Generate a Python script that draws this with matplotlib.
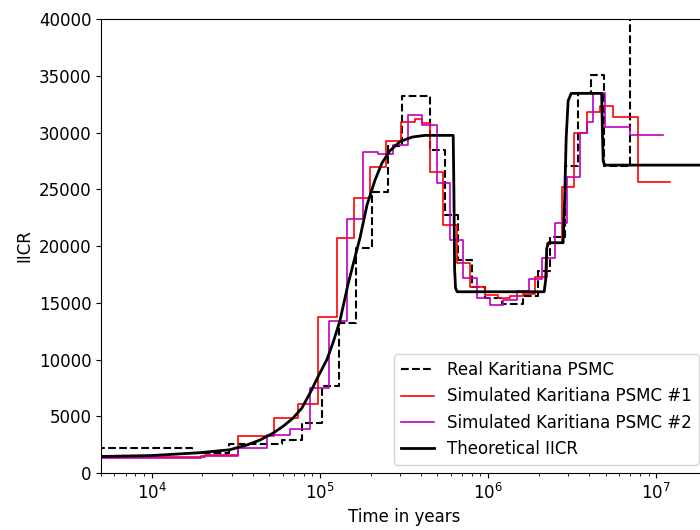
import numpy as np
import matplotlib
matplotlib.use("Agg")
import matplotlib.pyplot as plt

# Real Karitiana PSMC (step starts, values)
real_t = [3000, 17300, 28700, 59400, 78200, 102800, 129700, 163700, 203100, 254000,
          306400, 452000, 554600, 665700, 800000, 959000, 1.206e6, 1.614e6, 1.985e6,
          2.34e6, 2.87e6, 3.43e6, 4.09e6, 4.9e6, 7.0e6]
real_v = [2200, 1800, 2600, 2900, 4430, 7660, 13190, 19850, 24760, 28810,
          33210, 28460, 22730, 18770, 16410, 15390, 14890, 15600, 17800,
          20820, 27050, 33450, 35060, 27070, 60000]
real_end = 1e8

# Simulated PSMC #1
sim1_t = [3000, 20690, 32520, 53200, 73700, 97700, 125600, 159200, 198500, 247000,
          303300, 367400, 402700, 452000, 541700, 651500, 782000, 959000, 1.148e6,
          1.35e6, 1.614e6, 1.905e6, 2.245e6, 2.75e6, 3.25e6, 3.88e6, 4.64e6, 5.52e6, 7.77e6]
sim1_v = [1380, 1590, 3260, 4820, 6080, 13770, 20730, 24200, 26990, 29250,
          30900, 31160, 30800, 26540, 21850, 18470, 16410, 15680, 15400,
          15600, 15800, 17290, 20300, 25170, 29930, 31830, 32360, 31390, 25660]
sim1_end = 1.21e7

# Simulated PSMC #2
sim2_t = [3000, 19770, 32650, 48200, 66300, 87800, 113100, 144300, 179500, 222400,
          272000, 334000, 402700, 495000, 594000, 713000, 857000, 1.028e6, 1.233e6,
          1.482e6, 1.738e6, 2.09e6, 2.505e6, 2.94e6, 3.53e6, 3.87e6, 4.2e6, 4.97e6, 7.0e6]
sim2_v = [1300, 1500, 2180, 3350, 3850, 7460, 13390, 22380, 28310, 28150,
          28900, 31540, 30660, 25520, 20530, 17150, 15390, 14800, 15240,
          16080, 17090, 18910, 22030, 26100, 29930, 30950, 33450, 30510, 29780]
sim2_end = 1.096e7

# Theoretical IICR
theo_t = [3000, 10000, 19310, 29120, 36780, 43950, 52480, 60230, 69060, 78200,
          87200, 97300, 110100, 119500, 131500, 146800, 161500, 173000, 190500,
          212500, 233700, 261000, 299500, 353300, 421700, 620000, 626000, 632000,
          640000, 655000, 2.153e6, 2.198e6, 2.23e6, 2.29e6, 2.79e6, 2.85e6, 2.91e6,
          2.99e6, 3.12e6, 4.73e6, 4.78e6, 4.83e6, 4.92e6, 3e7]
theo_v = [1400, 1540, 1790, 2050, 2470, 2900, 3500, 4100, 4820, 5730,
          7020, 8460, 10000, 11450, 13400, 16600, 19000, 20700, 23600,
          25800, 27300, 28400, 29200, 29600, 29750, 29750, 25000, 18000,
          16300, 15970, 15970, 17000, 19800, 20290, 20290, 24000, 29500,
          32800, 33450, 33450, 30000, 27500, 27130, 27130]

plt.rcParams['font.size'] = 12
fig = plt.figure(figsize=(7, 5.3), dpi=100)
ax = fig.add_axes([0.1443, 0.1075, 0.8657, 0.8566])

ax.step(real_t + [real_end], real_v + [real_v[-1]], where='post',
        color='black', linestyle='--', linewidth=1.5, label='Real Karitiana PSMC')
ax.step(sim1_t + [sim1_end], sim1_v + [sim1_v[-1]], where='post',
        color='red', linewidth=1.2, label='Simulated Karitiana PSMC #1')
ax.step(sim2_t + [sim2_end], sim2_v + [sim2_v[-1]], where='post',
        color='m', linewidth=1.2, label='Simulated Karitiana PSMC #2')
ax.plot(theo_t, theo_v, color='black', linewidth=2, label='Theoretical IICR')

ax.set_xscale('log')
ax.set_xlim(5000, 2e7)
ax.set_ylim(0, 40000)
ax.set_xlabel('Time in years')
ax.set_ylabel('IICR')
ax.legend(loc='lower right')

fig.savefig('out.png', dpi=100)
